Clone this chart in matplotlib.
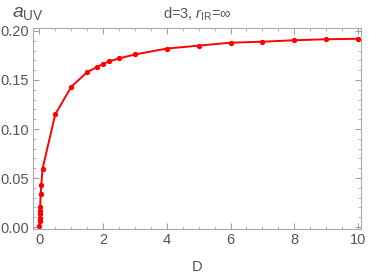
import matplotlib
matplotlib.use("Agg")
import matplotlib.pyplot as plt
from matplotlib.ticker import MultipleLocator

plt.rcParams['font.family'] = ['Liberation Sans', 'DejaVu Sans']
plt.rcParams['mathtext.fontset'] = 'custom'
plt.rcParams['mathtext.rm'] = 'Liberation Sans'
plt.rcParams['mathtext.it'] = 'Liberation Sans:italic'

# values
D = [0.0, 0.005, 0.01, 0.015, 0.02, 0.025, 0.04, 0.06, 0.1,
     0.5, 1.0, 1.5, 1.8, 2.0, 2.2, 2.5, 3, 4, 5, 6, 7, 8, 9, 10]
a_uv = [0.0007, 0.0064, 0.0098, 0.013, 0.0166, 0.020, 0.0335, 0.0426, 0.0596,
        0.115, 0.143, 0.158, 0.163, 0.1665, 0.169, 0.172, 0.176, 0.182, 0.185,
        0.188, 0.189, 0.1905, 0.1915, 0.192]

grey = "#555555"
fig = plt.figure(figsize=(3.9, 2.77), dpi=100)
ax = fig.add_axes([0.0846, 0.173, 0.8414, 0.726])

ax.plot(D, a_uv, color="red", lw=1.4, marker="o", ms=2.8)

ax.set_xlim(-0.2, 10.1)
ax.set_ylim(-0.002, 0.203)
ax.xaxis.set_major_locator(MultipleLocator(2))
ax.xaxis.set_minor_locator(MultipleLocator(0.5))
ax.yaxis.set_major_locator(MultipleLocator(0.05))
ax.yaxis.set_minor_locator(MultipleLocator(0.01))
ax.yaxis.set_major_formatter(matplotlib.ticker.FormatStrFormatter("%.2f"))

for s in ax.spines.values():
    s.set_color("#aaaaaa")
    s.set_linewidth(0.8)
ax.tick_params(which="both", direction="in", top=True, right=True,
               color="#999999", labelcolor=grey, labelsize=10.5)
ax.tick_params(which="major", length=4, width=0.7, pad=3)
ax.tick_params(which="minor", length=2, width=0.5)

fig.text(0.505, 0.95, r"d=3, $r_{\mathrm{IR}}$=∞", ha="center", va="center",
         fontsize=10.5, color=grey)
fig.text(0.03, 0.95, r"$a_{\mathrm{UV}}$", ha="left", va="center",
         fontsize=14, color=grey)
fig.text(0.505, 0.035, "D", ha="center", va="center", fontsize=10.5, color=grey)

fig.savefig("out.png", dpi=100)
